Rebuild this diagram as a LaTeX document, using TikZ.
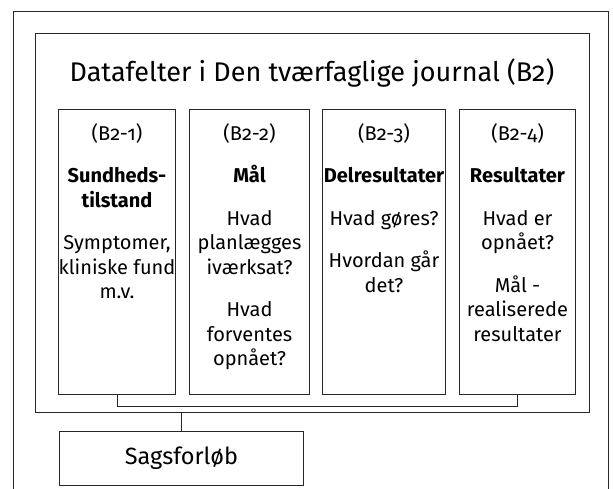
\documentclass[tikz,border=0pt]{standalone}
\usepackage{fontspec}
\setmainfont{Fira Sans}[Numbers=OldStyle]
\usetikzlibrary{positioning}
% tekstfelt med tekst fra toppen
\newcommand\felt[2]{\parbox[c][285pt][t]{#1}{\centering\vspace*{14pt}#2}}
\newcommand\afsnit{\\[18pt]}

\begin{document}
\begin{tikzpicture}[x=1pt,y=-1pt,
frame/.style={draw=black!85, line width=1pt},
field/.style={frame, inner sep=0pt, font=\fontsize{20}{24.5}\selectfont},
bigtext/.style={font=\fontsize{27}{30}\selectfont}]
\useasboundingbox (0,0) rectangle (613,489);
% ramme
\draw[frame] (13,489) |- (608,12) -- (608,489);
\node[frame, anchor=north west, minimum width=554pt, minimum height=379pt] (journal) at (35,33) {};
\node[bigtext] (title) at (312,73) {Datafelter i Den tværfaglige journal (B2)};
% DATAFELTER
\node[field, anchor=north west] (b1) at (58,109) {\felt{117pt}{(B2-1)\afsnit
\textbf{Sundheds-}\\ \textbf{tilstand}\afsnit
Symptomer,\\ kliniske fund\\ m.v.}};
\node[field, right=13pt of b1] (b2) {\felt{120pt}{(B2-2)\afsnit
\textbf{Mål}\afsnit
Hvad\\ planlægges\\ iværksat?\afsnit
Hvad\\ forventes\\ opnået?}};
\node[field, right=12pt of b2] (b3) {\felt{123pt}{(B2-3)\afsnit
\textbf{Delresultater}\afsnit
Hvad gøres?\afsnit
Hvordan går\\ det?}};
\node[field, right=13pt of b3] (b4) {\felt{116pt}{(B2-4)\afsnit
\textbf{Resultater}\afsnit
Hvad er\\ opnået?\afsnit
Mål -\\ realiserede\\ resultater}};
% SAGSFORLOB
\node[frame, font=\fontsize{23.5}{26}\selectfont, anchor=north west, minimum width=244pt, minimum height=54pt] (sags) at (59,431) {Sagsforløb};
\draw[frame] (b1.south) -- ++(0,11) -| (b4.south);
\draw[frame] (sags.north) -- (sags.north |- journal.south);
\end{tikzpicture}
\end{document}
